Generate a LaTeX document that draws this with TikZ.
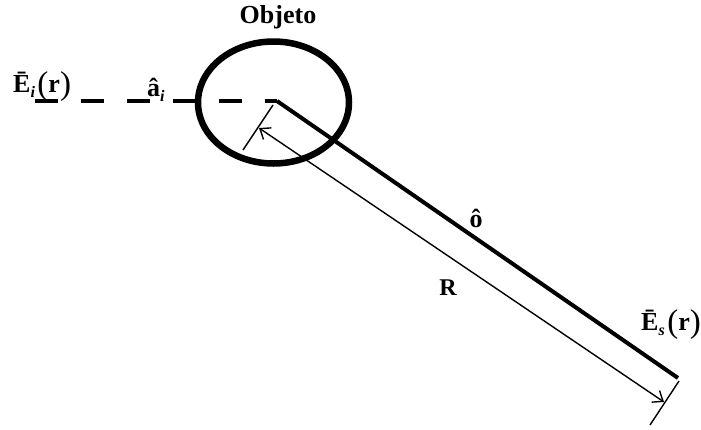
\documentclass[tikz,border=0pt]{standalone}
\usepackage{fontspec}
\setmainfont{Liberation Serif}
\usetikzlibrary{arrows.meta,shapes.geometric}
\newcommand{\subsc}[1]{\raisebox{-5pt}{\fontsize{16}{16}\selectfont\textit{#1}}}
\newcommand{\bigpar}[1]{\raisebox{-2pt}{\fontsize{33}{33}\selectfont\mdseries #1}}
\newcommand{\lblE}[1]{\textbf{\=E}\subsc{#1}\hspace{2.5pt}\bigpar{(}\textbf{r}\bigpar{)}}
\begin{document}
\begin{tikzpicture}[x=1pt,y=-1pt,
  lbl/.style={font=\fontsize{26}{28}\selectfont\bfseries, inner sep=0pt},
  thickline/.style={line width=4pt},
  dimline/.style={line width=1.4pt},
  dimarrow/.style={line width=1.4pt, {Straight Barb[length=9pt,width=14pt,line width=1.4pt]}-{Straight Barb[length=9pt,width=14pt,line width=1.4pt]}}]
\useasboundingbox (0,0) rectangle (701,429);
% object
\node[draw, ellipse, line width=6.5pt, minimum width=151pt, minimum height=122pt, inner sep=0pt] (obj) at (273.5,102.5) {};
\node[inner sep=0pt, font=\fontsize{26}{28}\selectfont\bfseries] (objlbl) at (278,17) {Objeto};
% points
\coordinate (start) at (35,101);
\coordinate (O) at (277,101);
\coordinate (E) at (678,378);
\coordinate (t1a) at (273,105);
\coordinate (t1b) at (243,150);
\coordinate (t2a) at (679,381);
\coordinate (t2b) at (650,425);
\coordinate (a1) at (259,128);
\coordinate (a2) at (664,402);
% incident (dashed) and scattered lines
\draw[thickline, dash pattern=on 23pt off 23pt] (start) -- (O);
\draw[thickline] (O) -- (E);
% dimension
\draw[dimline] (t1a) -- (t1b);
\draw[dimline] (t2a) -- (t2b);
\draw[dimarrow] (a1) -- (a2);
% labels
\node[lbl, anchor=base west] (Ei) at (13,92) {\lblE{i}};
\node[lbl, anchor=base west] (ai) at (147,96) {\^a\subsc{i}};
\node[lbl, anchor=base] (o) at (476,227) {\^o};
\node[lbl, font=\fontsize{24}{26}\selectfont\bfseries, anchor=base] (R) at (448,295) {R};
\node[lbl, anchor=base east] (Es) at (701,330) {\lblE{s}};
\end{tikzpicture}
\end{document}
